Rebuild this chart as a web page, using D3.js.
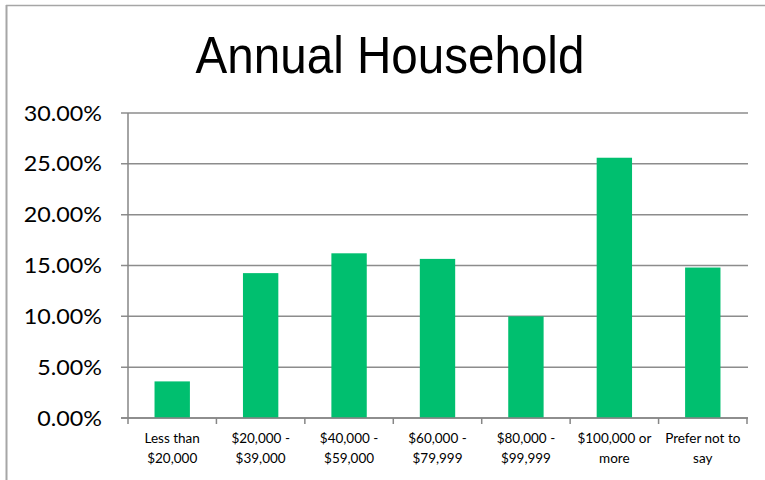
<!DOCTYPE html>
<html>
<head>
<meta charset="utf-8">
<script src="https://cdn.jsdelivr.net/npm/d3@7"></script>
<style>
  html, body { margin: 0; padding: 0; background: #fff; }
  svg { display: block; }
</style>
</head>
<body>
<svg id="chart" width="765" height="480"></svg>
<script>
// Income brackets and the share of households in each
const categories = [
  ["Less than", "$20,000"],
  ["$20,000 -", "$39,000"],
  ["$40,000 -", "$59,000"],
  ["$60,000 -", "$79,999"],
  ["$80,000 -", "$99,999"],
  ["$100,000 or", "more"],
  ["Prefer not to", "say"]
];
const shares = [3.6, 14.25, 16.2, 15.65, 10.0, 25.6, 14.8];
const yTicks = [0, 5, 10, 15, 20, 25, 30];
const title = "Annual Household";

const svg = d3.select("#chart");
const W = 765, H = 480;
const plot = { left: 128, right: 747, top: 113, bottom: 418 };

// Frame lines along the left and top edges
svg.append("line").attr("x1", 6.5).attr("x2", 6.5).attr("y1", 5).attr("y2", H)
  .attr("stroke", "#a6a6a6").attr("stroke-width", 2);
svg.append("line").attr("x1", 6).attr("x2", W).attr("y1", 5.5).attr("y2", 5.5)
  .attr("stroke", "#a6a6a6").attr("stroke-width", 1.5);

// Title, drawn slightly condensed
svg.append("text")
  .attr("transform", "translate(390,73) scale(0.915,1)")
  .attr("text-anchor", "middle")
  .attr("font-family", "Liberation Sans, Arial, sans-serif")
  .attr("font-size", 52)
  .attr("fill", "#000")
  .text(title);

const x = d3.scaleBand()
  .domain(d3.range(categories.length))
  .range([plot.left, plot.right])
  .paddingInner(0.6)
  .paddingOuter(0.3);

const y = d3.scaleLinear().domain([0, 30]).range([plot.bottom, plot.top]);

// Horizontal gridlines with short ticks to the left of the axis
const grid = svg.append("g");
grid.selectAll("line").data(yTicks).join("line")
  .attr("x1", plot.left - 7).attr("x2", plot.right + 1)
  .attr("y1", d => y(d)).attr("y2", d => y(d))
  .attr("stroke", "#8c8c8c").attr("stroke-width", 1.5);

// Y tick labels, slightly widened
svg.append("g").selectAll("text").data(yTicks).join("text")
  .attr("transform", d => `translate(102,${y(d)}) scale(1.11,1)`)
  .attr("dy", "0.36em")
  .attr("text-anchor", "end")
  .attr("font-family", "Lato, Carlito, Calibri, sans-serif")
  .attr("font-size", 21)
  .attr("fill", "#000")
  .text(d => d3.format(".2f")(d) + "%");

// Bars
svg.append("g").selectAll("rect").data(shares).join("rect")
  .attr("x", (d, i) => x(i))
  .attr("width", x.bandwidth())
  .attr("y", d => y(d))
  .attr("height", d => y(0) - y(d))
  .attr("fill", "#00bf6f");

// Axis lines
svg.append("line").attr("x1", plot.left).attr("x2", plot.left)
  .attr("y1", plot.top).attr("y2", plot.bottom)
  .attr("stroke", "#868686").attr("stroke-width", 1.5);
svg.append("line").attr("x1", plot.left - 7).attr("x2", plot.right + 1)
  .attr("y1", plot.bottom).attr("y2", plot.bottom)
  .attr("stroke", "#868686").attr("stroke-width", 1.5);

// Category boundary ticks below the x axis
const bounds = d3.range(categories.length + 1).map(i => plot.left + i * (plot.right - plot.left) / categories.length);
svg.append("g").selectAll("line").data(bounds).join("line")
  .attr("x1", d => d).attr("x2", d => d)
  .attr("y1", plot.bottom).attr("y2", plot.bottom + 6)
  .attr("stroke", "#868686").attr("stroke-width", 1.5);

// Category labels, two lines each
const labels = svg.append("g").selectAll("text").data(categories).join("text")
  .attr("x", (d, i) => x(i) + x.bandwidth() / 2)
  .attr("y", 443)
  .attr("text-anchor", "middle")
  .attr("font-family", "Lato, Carlito, Calibri, sans-serif")
  .attr("font-size", 13.5)
  .attr("fill", "#000");
labels.each(function(d) {
  const t = d3.select(this);
  d.forEach((line, k) => {
    t.append("tspan")
      .attr("x", t.attr("x"))
      .attr("dy", k === 0 ? 0 : 20)
      .text(line);
  });
});
</script>
</body>
</html>
